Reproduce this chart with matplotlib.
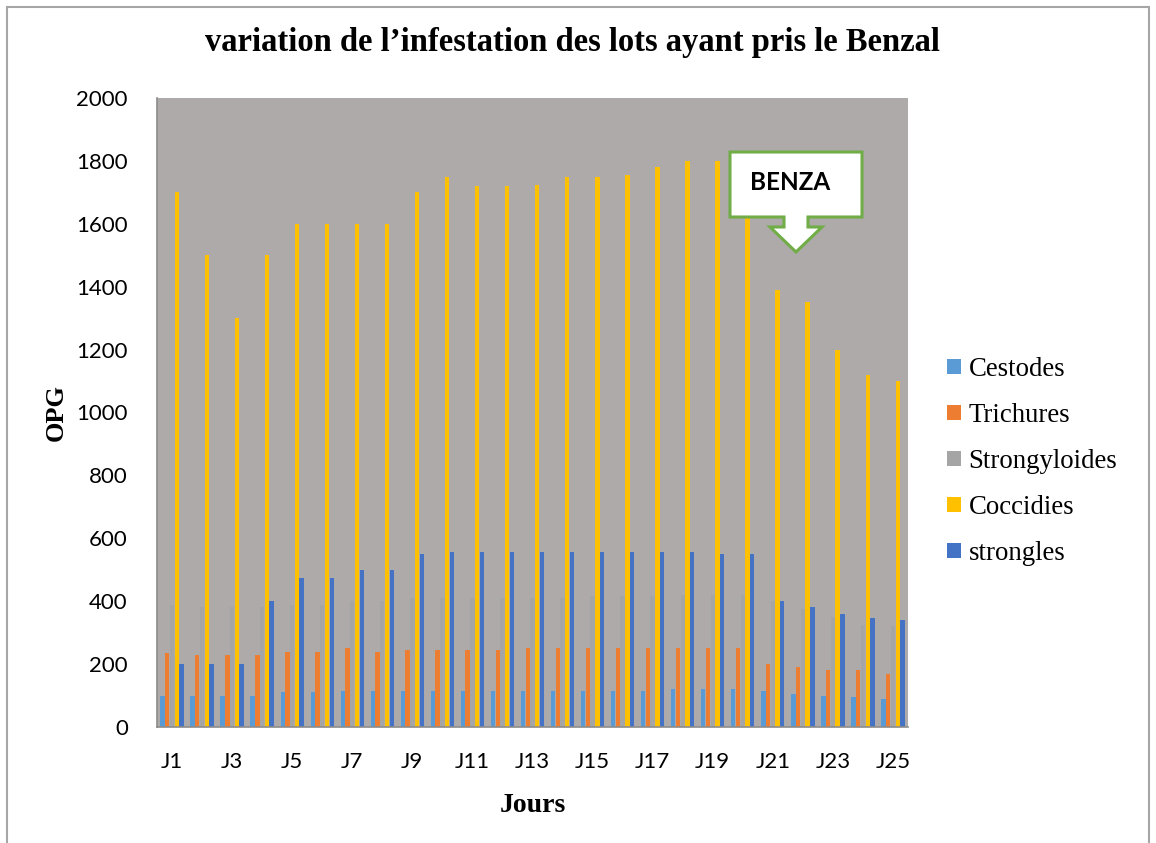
import matplotlib
matplotlib.use("Agg")
import matplotlib.pyplot as plt
import numpy as np
from matplotlib.patches import Polygon, Rectangle

days = [f"J{i}" for i in range(1, 26)]
series_names = ["Cestodes", "Trichures", "Strongyloides", "Coccidies", "strongles"]
cestodes = [100, 100, 100, 100, 110, 110, 115, 113, 113, 115, 115, 113, 115, 115, 115, 115, 115, 120, 120, 120, 115, 105, 100, 95, 90]
trichures = [235, 230, 230, 230, 240, 240, 250, 240, 245, 245, 245, 245, 250, 250, 250, 250, 250, 250, 250, 250, 200, 190, 180, 180, 170]
strongyloides = [388, 383, 383, 383, 388, 388, 400, 400, 410, 411, 411, 411, 411, 411, 415, 415, 415, 420, 420, 420, 400, 375, 350, 325, 320]
coccidies = [1700, 1500, 1300, 1500, 1600, 1600, 1600, 1600, 1700, 1750, 1720, 1720, 1722, 1750, 1750, 1755, 1780, 1800, 1800, 1650, 1390, 1350, 1200, 1120, 1100]
strongles = [200, 200, 200, 400, 475, 475, 500, 500, 550, 555, 555, 555, 555, 555, 555, 555, 555, 558, 550, 550, 400, 380, 360, 345, 340]
colors = ["#5B9BD5", "#ED7D31", "#A5A5A5", "#FFC000", "#4472C4"]

W, H = 1156, 843
fig = plt.figure(figsize=(W / 100, H / 100), dpi=100)
fig.patch.set_facecolor("white")

# outer frame
fig.add_artist(Rectangle((7 / W, -0.01), (1149 - 7) / W, 1 - 7 / H + 0.01, transform=fig.transFigure,
                         fill=False, edgecolor="#A6A6A6", linewidth=1.5))

ax_l, ax_r, ax_t, ax_b = 157, 908, 98, 727
ax = fig.add_axes([ax_l / W, 1 - ax_b / H, (ax_r - ax_l) / W, (ax_b - ax_t) / H])
ax.set_facecolor("#AEAAA9")

x = np.arange(len(days))
width = 0.145
step = 0.158
data = [cestodes, trichures, strongyloides, coccidies, strongles]
for i, (name, vals, c) in enumerate(zip(series_names, data, colors)):
    ax.bar(x + (i - 2) * step, vals, width=width, color=c, label=name, zorder=2)

ax.set_xlim(-0.5, len(days) - 0.5)
ax.set_ylim(0, 2000)
ax.set_yticks(np.arange(0, 2001, 200))
ax.set_xticks(x[::2])
ax.set_xticklabels(days[::2])
ax.tick_params(axis="both", length=0, labelsize=16, colors="black")
ax.tick_params(axis="x", pad=18)
ax.tick_params(axis="y", pad=21)
for lab in ax.get_xticklabels() + ax.get_yticklabels():
    lab.set_fontfamily("Lato")

for s in ["top", "right"]:
    ax.spines[s].set_visible(False)
for s in ["left", "bottom"]:
    ax.spines[s].set_color("#8C8C8C")
    ax.spines[s].set_linewidth(1.2)

ax.set_ylabel("OPG", fontfamily="Liberation Serif", fontweight="bold", fontsize=19, labelpad=6)
ax.set_xlabel("Jours", fontfamily="Liberation Serif", fontweight="bold", fontsize=20, labelpad=15)

fig.text(572 / W, 1 - 42 / H, "variation de l\u2019infestation des lots ayant pris le Benzal",
         ha="center", va="center", fontfamily="Liberation Serif", fontweight="bold", fontsize=23.5)

leg = ax.legend(loc="center left", bbox_to_anchor=(1.02, 0.422), frameon=False,
                prop={"family": "Liberation Serif", "size": 19.3},
                handlelength=0.5, handleheight=0.5, handletextpad=0.3, labelspacing=0.78)

# callout "BENZA"
pts = [(730, 152), (862, 152), (862, 217), (808, 217), (808, 227), (822, 227), (796, 252),
       (770, 227), (784, 227), (784, 217), (730, 217)]
poly = Polygon([(px / W, 1 - py / H) for px, py in pts], closed=True, transform=fig.transFigure,
               facecolor="white", edgecolor="#70AD47", linewidth=2.2, zorder=5)
fig.add_artist(poly)
fig.text(790 / W, 1 - 182 / H, "BENZA", ha="center", va="center", fontfamily="Lato",
         fontweight="bold", fontsize=17.5, zorder=6)

fig.savefig("out.png", dpi=100)
